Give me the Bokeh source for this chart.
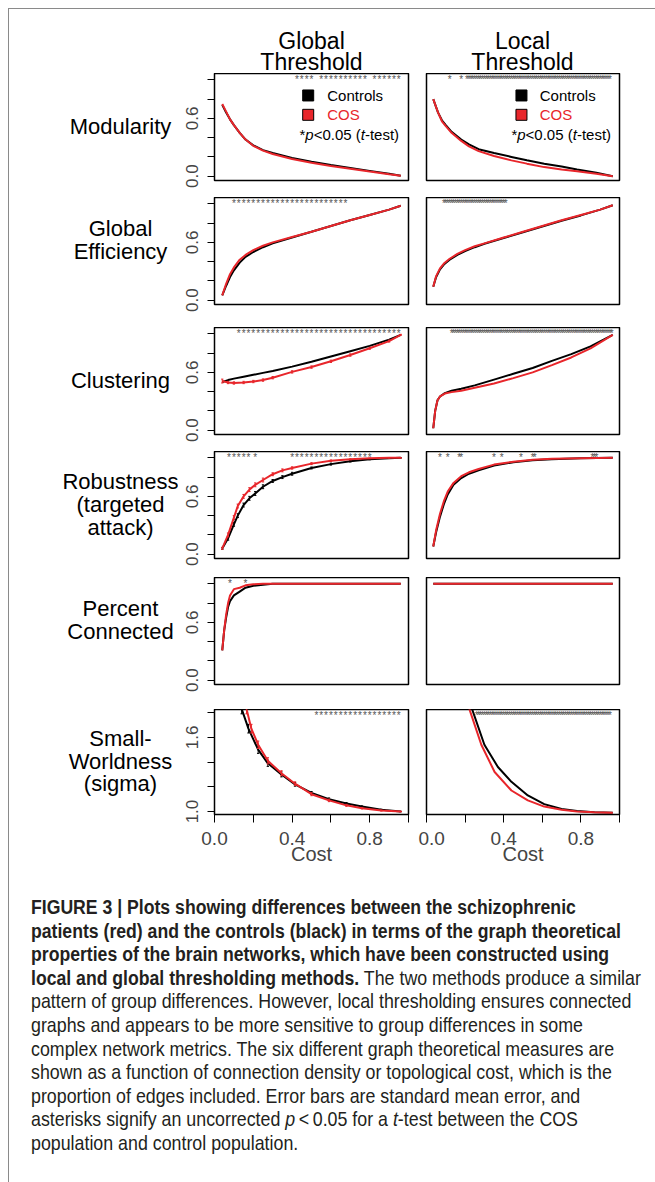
import numpy as np
from bokeh.plotting import figure
from bokeh.models import Range1d, FixedTicker, Div
from bokeh.layouts import column, row
from bokeh.embed import file_html
from bokeh.resources import INLINE
from bokeh.core.properties import value

# ---------------- data ----------------
COL_TITLES = [["Global", "Threshold"], ["Local", "Threshold"]]
ROW_LABELS = [["Modularity"], ["Global", "Efficiency"], ["Clustering"],
              ["Robustness", "(targeted", "attack)"], ["Percent", "Connected"],
              ["Small-", "Worldness", "(sigma)"]]
X_TICKS = [0.0, 0.2, 0.4, 0.6, 0.8, 1.0]
X_TICK_TEXT = ["0.0", "", "0.4", "", "0.8", ""]
Y_TICKS_01 = [0.0, 0.2, 0.4, 0.6, 0.8, 1.0]
Y_TICK_TEXT_01 = ["0.0", "", "", "0.6", "", ""]
Y_TICKS_SW = [1.0, 1.2, 1.4, 1.6, 1.8]
Y_TICK_TEXT_SW = ["1.0", "", "", "1.6", ""]
X_LABEL = "Cost"
LEGEND_NAMES = ["Controls", "COS"]

# Modularity
MOD_G_COST = [0.04, 0.06, 0.08, 0.10, 0.13, 0.16, 0.20, 0.25, 0.30, 0.40, 0.50, 0.60, 0.70, 0.80, 0.90, 0.96]
MOD_G_CTRL = [0.74, 0.66, 0.59, 0.53, 0.45, 0.38, 0.32, 0.27, 0.24, 0.19, 0.15, 0.115, 0.085, 0.055, 0.025, 0.005]
MOD_G_COS = [0.75, 0.67, 0.59, 0.53, 0.45, 0.38, 0.315, 0.265, 0.23, 0.178, 0.14, 0.105, 0.077, 0.048, 0.02, 0.004]
MOD_L_COST = [0.035, 0.06, 0.08, 0.10, 0.13, 0.18, 0.22, 0.27, 0.35, 0.44, 0.52, 0.61, 0.70, 0.78, 0.88, 0.965]
MOD_L_CTRL = [0.80, 0.66, 0.58, 0.53, 0.46, 0.38, 0.33, 0.28, 0.24, 0.20, 0.165, 0.13, 0.10, 0.07, 0.035, 0.0]
MOD_L_COS = [0.80, 0.66, 0.57, 0.52, 0.45, 0.366, 0.31, 0.26, 0.21, 0.164, 0.13, 0.094, 0.07, 0.052, 0.025, 0.0]
# Global efficiency
GE_G_COST = [0.04, 0.06, 0.08, 0.10, 0.13, 0.16, 0.20, 0.25, 0.30, 0.40, 0.50, 0.60, 0.70, 0.80, 0.90, 0.96]
GE_G_CTRL = [0.05, 0.15, 0.24, 0.31, 0.39, 0.45, 0.50, 0.55, 0.59, 0.65, 0.71, 0.77, 0.83, 0.885, 0.94, 0.98]
GE_G_COS = [0.05, 0.17, 0.27, 0.34, 0.42, 0.47, 0.52, 0.565, 0.60, 0.655, 0.71, 0.77, 0.83, 0.885, 0.94, 0.98]
GE_L_COST = [0.035, 0.05, 0.07, 0.09, 0.12, 0.16, 0.20, 0.25, 0.30, 0.40, 0.50, 0.60, 0.70, 0.80, 0.90, 0.965]
GE_L_CTRL = [0.14, 0.24, 0.32, 0.37, 0.42, 0.47, 0.51, 0.55, 0.585, 0.645, 0.705, 0.765, 0.825, 0.88, 0.94, 0.985]
GE_L_COS = [0.14, 0.25, 0.33, 0.38, 0.43, 0.48, 0.52, 0.56, 0.59, 0.65, 0.71, 0.77, 0.83, 0.885, 0.94, 0.985]
# Clustering
CL_G_COST = [0.04, 0.07, 0.10, 0.15, 0.20, 0.25, 0.30, 0.40, 0.50, 0.60, 0.70, 0.80, 0.90, 0.96]
CL_G_CTRL = [0.50, 0.52, 0.535, 0.555, 0.575, 0.595, 0.615, 0.66, 0.71, 0.765, 0.82, 0.875, 0.94, 0.99]
CL_G_COS = [0.51, 0.495, 0.49, 0.495, 0.505, 0.52, 0.545, 0.605, 0.655, 0.715, 0.78, 0.85, 0.925, 0.99]
CL_G_COS_SEM = [0.02, 0.012, 0.012, 0.012, 0.012, 0.012, 0.012, 0.012, 0.012, 0.012, 0.012, 0.01, 0.01, 0.005]
CL_L_COST = [0.035, 0.045, 0.057, 0.07, 0.095, 0.13, 0.18, 0.25, 0.35, 0.45, 0.55, 0.65, 0.75, 0.85, 0.965]
CL_L_CTRL = [0.02, 0.20, 0.31, 0.35, 0.385, 0.41, 0.43, 0.465, 0.525, 0.585, 0.645, 0.72, 0.79, 0.87, 0.99]
CL_L_COS = [0.02, 0.20, 0.31, 0.35, 0.38, 0.395, 0.41, 0.44, 0.485, 0.54, 0.60, 0.675, 0.755, 0.85, 0.99]
# Robustness (targeted attack)
RB_G_COST = [0.04, 0.07, 0.10, 0.12, 0.15, 0.18, 0.21, 0.25, 0.30, 0.35, 0.40, 0.50, 0.60, 0.70, 0.80, 0.90, 0.96]
RB_G_CTRL = [0.06, 0.165, 0.31, 0.40, 0.51, 0.58, 0.63, 0.70, 0.76, 0.80, 0.835, 0.895, 0.935, 0.965, 0.985, 0.997, 1.0]
RB_G_COS = [0.06, 0.20, 0.38, 0.50, 0.60, 0.67, 0.72, 0.77, 0.83, 0.87, 0.895, 0.94, 0.97, 0.985, 0.995, 1.0, 1.0]
RB_G_CTRL_SEM = [0.01, 0.02, 0.02, 0.02, 0.02, 0.02, 0.02, 0.02, 0.015, 0.015, 0.015, 0.01, 0.01, 0.008, 0.005, 0.003, 0.0]
RB_G_COS_SEM = [0.01, 0.02, 0.02, 0.02, 0.02, 0.02, 0.02, 0.02, 0.015, 0.015, 0.012, 0.01, 0.008, 0.005, 0.003, 0.0, 0.0]
RB_L_COST = [0.035, 0.05, 0.07, 0.09, 0.11, 0.14, 0.18, 0.22, 0.27, 0.35, 0.45, 0.55, 0.65, 0.80, 0.965]
RB_L_CTRL = [0.08, 0.23, 0.39, 0.52, 0.62, 0.72, 0.79, 0.835, 0.87, 0.92, 0.955, 0.975, 0.985, 0.995, 1.0]
RB_L_COS = [0.08, 0.25, 0.42, 0.55, 0.65, 0.74, 0.81, 0.85, 0.885, 0.93, 0.96, 0.98, 0.99, 0.995, 1.0]
# Percent connected
PC_G_COST = [0.04, 0.05, 0.06, 0.07, 0.08, 0.10, 0.13, 0.16, 0.20, 0.25, 0.30, 0.96]
PC_G_CTRL = [0.31, 0.52, 0.65, 0.76, 0.82, 0.88, 0.92, 0.96, 0.98, 0.99, 1.0, 1.0]
PC_G_COS = [0.31, 0.52, 0.68, 0.80, 0.88, 0.945, 0.96, 0.985, 0.995, 1.0, 1.0, 1.0]
PC_L_COST = [0.035, 0.965]
PC_L_CTRL = [1.0, 1.0]
PC_L_COS = [1.0, 1.0]
# Small-worldness (sigma)
SW_G_CTRL_COST = [0.125, 0.14, 0.175, 0.225, 0.275, 0.345, 0.415, 0.50, 0.59, 0.68, 0.76, 0.86, 0.96]
SW_G_CTRL = [1.95, 1.83, 1.67, 1.50, 1.39, 1.30, 1.22, 1.15, 1.10, 1.065, 1.04, 1.015, 1.0]
SW_G_CTRL_SEM = [0.04, 0.04, 0.035, 0.03, 0.025, 0.02, 0.015, 0.012, 0.01, 0.008, 0.006, 0.004, 0.002]
SW_G_COS_COST = [0.15, 0.165, 0.19, 0.225, 0.275, 0.345, 0.415, 0.50, 0.59, 0.68, 0.76, 0.86, 0.96]
SW_G_COS = [1.95, 1.83, 1.67, 1.54, 1.41, 1.31, 1.225, 1.14, 1.09, 1.05, 1.027, 1.008, 1.0]
SW_G_COS_SEM = [0.04, 0.04, 0.035, 0.03, 0.025, 0.02, 0.015, 0.012, 0.01, 0.008, 0.006, 0.004, 0.002]
SW_L_CTRL_COST = [0.225, 0.238, 0.30, 0.37, 0.44, 0.525, 0.61, 0.70, 0.78, 0.87, 0.965]
SW_L_CTRL = [1.95, 1.82, 1.54, 1.36, 1.24, 1.13, 1.06, 1.02, 1.005, 0.995, 0.99]
SW_L_COS_COST = [0.21, 0.224, 0.284, 0.353, 0.44, 0.525, 0.61, 0.70, 0.78, 0.87, 0.965]
SW_L_COS = [1.95, 1.82, 1.54, 1.32, 1.17, 1.09, 1.04, 1.014, 1.0, 0.995, 0.99]

# significance (p<0.05) intervals on the cost grid
GLOBAL_STEP = 0.025
LOCAL_STEP = 0.01
SIG_G = [[(0.425, 0.50), (0.55, 0.775), (0.825, 0.95)],
         [(0.10, 0.675)],
         [(0.125, 0.95)],
         [(0.075, 0.175), (0.21, 0.21), (0.40, 0.80)],
         [(0.08, 0.09), (0.16, 0.17)],
         [(0.525, 0.95)]]
SIG_L = [[(0.12, 0.12), (0.18, 0.18), (0.21, 0.95)],
         [(0.09, 0.41)],
         [(0.13, 0.96)],
         [(0.07, 0.07), (0.11, 0.11), (0.17, 0.18), (0.35, 0.35), (0.39, 0.39),
          (0.49, 0.49), (0.55, 0.56), (0.86, 0.88)],
         [],
         [(0.26, 0.95)]]

B0 = '<b style="font-size:19.6px;">'
CAPTION = (B0 + "FIGURE 3 | Plots showing differences between the schizophrenic</b><br>"
           + B0 + "patients (red) and the controls (black) in terms of the graph theoretical</b><br>"
           + B0 + "properties of the brain networks, which have been constructed using</b><br>"
           + B0 + "local and global thresholding methods.</b> The two methods produce a similar<br>"
           "pattern of group differences. However, local thresholding ensures connected<br>"
           "graphs and appears to be more sensitive to group differences in some<br>"
           "complex network metrics. The six different graph theoretical measures are<br>"
           "shown as a function of connection density or topological cost, which is the<br>"
           "proportion of edges included. Error bars are standard mean error, and<br>"
           "asterisks signify an uncorrected <i>p</i>&thinsp;&lt;&thinsp;0.05 for a <i>t</i>-test between the COS<br>"
           "population and control population.")

# ---------------- style ----------------
FONT = "Liberation Sans"
RED = "#e8262b"
BLACK = "#000000"
STAR = "#555555"
W = 639
HEADER_H = 64
ROW_HS = [124, 130, 124, 126, 132, 158]   # block height of each panel row
FRAME_H = 107
LABEL_W = 169
G_W, G_L, G_R = 240, 36, 10
L_W, L_L, L_R = 230, 8, 29
Y01 = (-0.045, 1.066)
YSW = (0.976, 1.825)

ARIAL = {'*': 389, 'p': 556, '<': 584, '0': 556, '.': 278, '5': 556, ' ': 278, '(': 333,
         't': 278, '-': 333, 'e': 556, 's': 500, ')': 333}


def text_w(s, size):
    return sum(ARIAL.get(c, 556) for c in s) * size / 1000.0


def blank(w, h, fh=None):
    fh = h if fh is None else fh
    p = figure(width=w, height=h, x_range=Range1d(0, w), y_range=Range1d(fh, 0),
               output_backend="svg", toolbar_location=None, min_border=0)
    p.xaxis.visible = False
    p.yaxis.visible = False
    p.grid.visible = False
    p.outline_line_color = None
    return p


def panel(idx, col, series, stars, last, h):
    yr = YSW if idx == 5 else Y01
    w, bl, br = (G_W, G_L, G_R) if col == 0 else (L_W, L_L, L_R)
    p = figure(width=w, height=h, x_range=Range1d(0.0, 1.0), y_range=Range1d(*yr),
               output_backend="svg", toolbar_location=None,
               min_border_left=bl, min_border_right=br, min_border_top=0,
               min_border_bottom=h - FRAME_H)
    p.grid.visible = False
    p.outline_line_color = "black"
    p.outline_line_width = 1.5
    if col == 0:
        ticks = Y_TICKS_SW if idx == 5 else Y_TICKS_01
        labs = Y_TICK_TEXT_SW if idx == 5 else Y_TICK_TEXT_01
        ax = p.yaxis[0]
        ax.ticker = FixedTicker(ticks=ticks)
        ax.major_label_overrides = {t: l for t, l in zip(ticks, labs)}
        ax.major_label_orientation = "vertical"
        ax.major_label_text_font = FONT
        ax.major_label_text_font_size = "17px"
        ax.major_label_standoff = 9
        ax.major_tick_in = 0
        ax.major_tick_out = 7
        ax.minor_tick_line_color = None
        ax.axis_line_color = "black"
    else:
        p.yaxis.visible = False
    if last:
        ax = p.xaxis[0]
        ax.ticker = FixedTicker(ticks=X_TICKS)
        ax.major_label_overrides = {t: l for t, l in zip(X_TICKS, X_TICK_TEXT)}
        ax.major_label_text_font = FONT
        ax.major_label_text_font_size = "19px"
        ax.major_label_standoff = 9
        ax.major_tick_in = 0
        ax.major_tick_out = 8
        ax.minor_tick_line_color = None
        ax.axis_line_color = None
        ax.axis_label = X_LABEL
        ax.axis_label_text_font = FONT
        ax.axis_label_text_font_size = "20px"
        ax.axis_label_text_font_style = "normal"
        ax.axis_label_standoff = -5
    else:
        p.xaxis.visible = False

    for xs, ys, sem, color in series:
        if sem is not None:
            xs_a = np.array(xs)
            ys_a = np.array(ys)
            se = np.array(sem)
            p.segment(x0=xs_a, y0=ys_a - se, x1=xs_a, y1=ys_a + se, color=color, line_width=1)
            p.segment(x0=xs_a - 0.006, y0=ys_a - se, x1=xs_a + 0.006, y1=ys_a - se, color=color, line_width=1)
            p.segment(x0=xs_a - 0.006, y0=ys_a + se, x1=xs_a + 0.006, y1=ys_a + se, color=color, line_width=1)
        p.line(xs, ys, color=color, line_width=2)

    step = GLOBAL_STEP if col == 0 else LOCAL_STEP
    sx = []
    for a, b in stars:
        sx.extend([round(v, 3) for v in np.arange(a, b + 1e-9, step)])
    if sx:
        ypix = 6.0
        ys_star = yr[1] - ypix * (yr[1] - yr[0]) / FRAME_H
        p.text(x=sx, y=[ys_star] * len(sx), text=["*"] * len(sx), text_font=value(FONT),
               text_font_size="10px", text_align="center", text_baseline="middle",
               text_color=STAR)

    if idx == 0:
        fw = 194 if col == 0 else 193
        sq_x = 0.483 if col == 0 else 0.492
        tx = 0.581 if col == 0 else 0.587
        lx = 0.438 if col == 0 else 0.44
        ycs = [0.838, 0.637]
        p.scatter(x=[sq_x], y=[ycs[0]], marker="square", size=11, fill_color=BLACK, line_color=BLACK)
        p.scatter(x=[sq_x], y=[ycs[1]], marker="square", size=11, fill_color=RED, line_color=BLACK)
        p.text(x=[tx, tx], y=ycs, text=LEGEND_NAMES, text_font=value(FONT), text_font_size="15px",
               text_baseline="middle", text_align="left", text_color=[BLACK, RED])
        pieces = [("*", "normal"), ("p", "italic"), ("<0.05 (", "normal"), ("t", "italic"), ("-test)", "normal")]
        off = 0.0
        for s, st in pieces:
            p.text(x=[lx + off / fw], y=[0.433], text=[s], text_font=value(FONT), text_font_size="15px",
                   text_baseline="middle", text_align="left", text_color=BLACK, text_font_style=st)
            off += text_w(s, 15)
    return p


SERIES = [
    ([(MOD_G_COST, MOD_G_CTRL, None, BLACK), (MOD_G_COST, MOD_G_COS, None, RED)],
     [(MOD_L_COST, MOD_L_CTRL, None, BLACK), (MOD_L_COST, MOD_L_COS, None, RED)]),
    ([(GE_G_COST, GE_G_CTRL, None, BLACK), (GE_G_COST, GE_G_COS, None, RED)],
     [(GE_L_COST, GE_L_CTRL, None, BLACK), (GE_L_COST, GE_L_COS, None, RED)]),
    ([(CL_G_COST, CL_G_CTRL, None, BLACK), (CL_G_COST, CL_G_COS, CL_G_COS_SEM, RED)],
     [(CL_L_COST, CL_L_CTRL, None, BLACK), (CL_L_COST, CL_L_COS, None, RED)]),
    ([(RB_G_COST, RB_G_CTRL, RB_G_CTRL_SEM, BLACK), (RB_G_COST, RB_G_COS, RB_G_COS_SEM, RED)],
     [(RB_L_COST, RB_L_CTRL, None, BLACK), (RB_L_COST, RB_L_COS, None, RED)]),
    ([(PC_G_COST, PC_G_CTRL, None, BLACK), (PC_G_COST, PC_G_COS, None, RED)],
     [(PC_L_COST, PC_L_CTRL, None, BLACK), (PC_L_COST, PC_L_COS, None, RED)]),
    ([(SW_G_CTRL_COST, SW_G_CTRL, SW_G_CTRL_SEM, BLACK), (SW_G_COS_COST, SW_G_COS, SW_G_COS_SEM, RED)],
     [(SW_L_CTRL_COST, SW_L_CTRL, None, BLACK), (SW_L_COS_COST, SW_L_COS, None, RED)]),
]

# header
header = blank(W, HEADER_H)
for cx, lines in zip([302, 513], COL_TITLES):
    header.text(x=[cx, cx], y=[31, 52], text=lines, text_font=value(FONT), text_font_size="23px",
                text_align="center", text_baseline="middle", text_color=BLACK)

rows = [header]
for i in range(6):
    last = i == 5
    h = ROW_HS[i]
    # the label plot's frame is aligned with the panel frames of the same row
    lab = blank(LABEL_W, h, FRAME_H)
    lines = ROW_LABELS[i]
    n = len(lines)
    center = FRAME_H / 2 + (-11 if n == 2 else -1)
    ys = [center + (k - (n - 1) / 2) * 23 for k in range(n)]
    lab.text(x=[111] * n, y=ys, text=lines, text_font=value(FONT), text_font_size="22px",
             text_align="center", text_baseline="middle", text_color=BLACK)
    g = panel(i, 0, SERIES[i][0], SIG_G[i], last, h)
    l = panel(i, 1, SERIES[i][1], SIG_L[i], last, h)
    rows.append(row(lab, g, l))

cap_h = 1166 - HEADER_H - sum(ROW_HS)
cap = Div(text=('<div style="padding-left:17px;padding-top:24px;">'
                '<div style="font-family:\'Liberation Sans\',Arial,sans-serif;'
                'font-size:19.8px;line-height:23.6px;color:#231f20;white-space:nowrap;'
                'transform:scaleX(0.9);transform-origin:0 0;">' + CAPTION + '</div></div>'),
          width=W, height=cap_h)
rows.append(cap)

layout = column(*rows, spacing=0,
                styles={"margin-left": "8px", "margin-top": "8px",
                        "border-left": "1px solid #8a8a8a", "border-top": "1px solid #8a8a8a"})
open("out.html", "w").write(file_html(layout, INLINE))
